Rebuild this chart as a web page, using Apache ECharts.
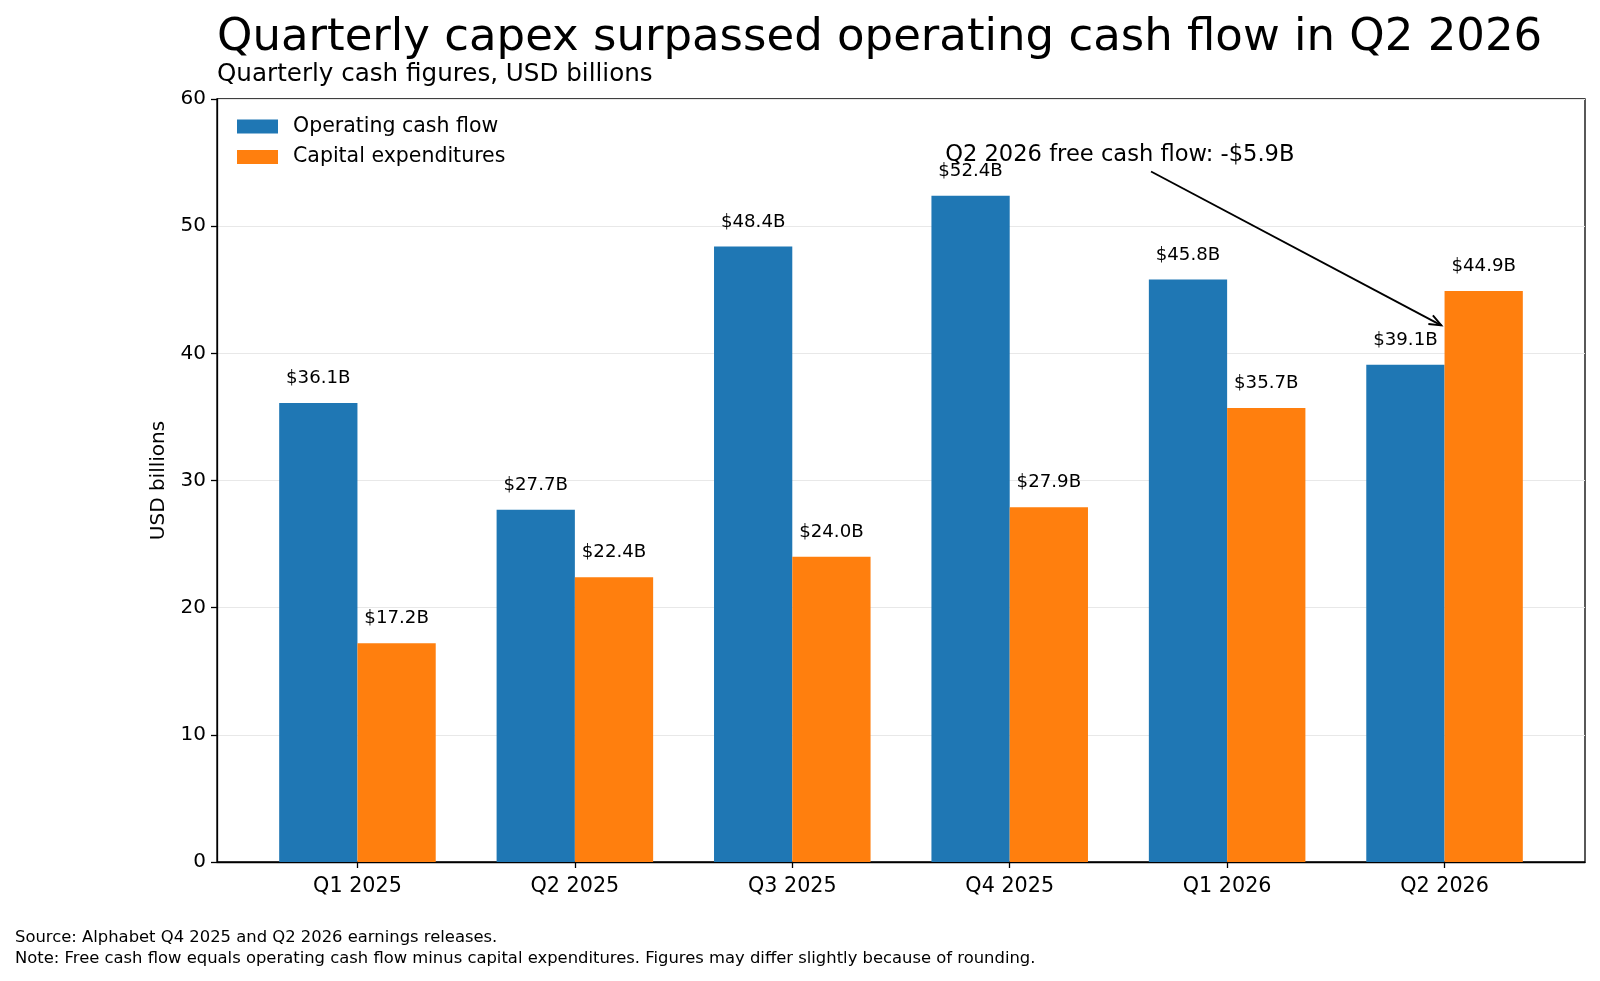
<!DOCTYPE html>
<html>
<head>
<meta charset="utf-8">
<title>Quarterly capex vs operating cash flow</title>
<script src="https://cdn.jsdelivr.net/npm/echarts@6/dist/echarts.min.js"></script>
<style>
  html, body { margin: 0; padding: 0; background: #fff; }
  #chart { width: 1600px; height: 981px; }
</style>
</head>
<body>
<div id="chart"></div>
<script>
// data
const quarters = ['Q1 2025', 'Q2 2025', 'Q3 2025', 'Q4 2025', 'Q1 2026', 'Q2 2026'];
const operatingCashFlow = [36.1, 27.7, 48.4, 52.4, 45.8, 39.1];
const capitalExpenditures = [17.2, 22.4, 24.0, 27.9, 35.7, 44.9];
const yTicks = [0, 10, 20, 30, 40, 50, 60];

const FONT = 'DejaVu Sans';
const BLUE = '#1f77b4';
const ORANGE = '#ff7f0e';

// annotation anchors in data coordinates (quarter index, value)
const noteText = 'Q2 2026 free cash flow: -$5.9B';
const noteAt = [2.703, 55.55];
const arrowFrom = [3.65, 54.3];
const arrowTo = [4.985, 42.2];

const chart = echarts.init(document.getElementById('chart'), null, { renderer: 'canvas' });

const idx = quarters.map((q, i) => i);
const fmt = p => '$' + p.value[1].toFixed(1) + 'B';

const option = {
  animation: false,
  backgroundColor: '#fff',
  textStyle: { fontFamily: FONT },
  title: [
    {
      text: 'Quarterly capex surpassed operating cash flow in Q2 2026',
      left: 212, top: 11,
      textStyle: { fontFamily: FONT, fontSize: 45, fontWeight: 'normal', color: '#000' }
    },
    {
      text: 'Quarterly cash figures, USD billions',
      left: 212, top: 57,
      textStyle: { fontFamily: FONT, fontSize: 24.6, fontWeight: 'normal', color: '#000' }
    },
    {
      text: 'Source: Alphabet Q4 2025 and Q2 2026 earnings releases.\nNote: Free cash flow equals operating cash flow minus capital expenditures. Figures may differ slightly because of rounding.',
      left: 10, top: 923,
      textStyle: { fontFamily: FONT, fontSize: 16.4, fontWeight: 'normal', color: '#000', lineHeight: 20.4 }
    }
  ],
  legend: {
    orient: 'vertical',
    left: 232, top: 111,
    itemWidth: 41, itemHeight: 14, itemGap: 9.5,
    icon: 'rect',
    textStyle: { fontFamily: FONT, fontSize: 20.5, color: '#000', lineHeight: 20, padding: [0, 0, 0, 10] },
    data: ['Operating cash flow', 'Capital expenditures']
  },
  grid: {
    left: 217, right: 15, top: 99, bottom: 119,
    show: true, borderColor: '#000', borderWidth: 1.3, backgroundColor: 'transparent'
  },
  xAxis: {
    type: 'value',
    min: -0.646, max: 5.646,
    axisLine: { onZero: false, lineStyle: { color: '#000', width: 1.3 } },
    axisTick: { show: true, customValues: idx, length: 6, lineStyle: { color: '#000', width: 1.3 } },
    axisLabel: { customValues: idx, formatter: v => quarters[Math.round(v)],
                 fontFamily: FONT, fontSize: 20.7, color: '#000', margin: 14 },
    splitLine: { show: false }
  },
  yAxis: {
    type: 'value',
    min: yTicks[0], max: yTicks[yTicks.length - 1], interval: 10,
    name: 'USD billions',
    nameLocation: 'middle',
    nameGap: 48,
    nameTextStyle: { fontFamily: FONT, fontSize: 20, color: '#000' },
    axisLine: { show: true, onZero: false, lineStyle: { color: '#000', width: 1.3 } },
    axisTick: { show: true, length: 6, lineStyle: { color: '#000', width: 1.3 } },
    axisLabel: { fontFamily: FONT, fontSize: 20, color: '#000', margin: 11 },
    splitLine: { show: true, lineStyle: { color: '#e8e8e8', width: 1 } }
  },
  series: [
    {
      name: 'Operating cash flow',
      type: 'bar',
      data: idx.map(i => [i, operatingCashFlow[i]]),
      barWidth: '36%',
      barGap: '0%',
      itemStyle: { color: BLUE },
      label: { show: true, position: 'top', distance: 15.5, formatter: fmt,
               fontFamily: FONT, fontSize: 18.2, color: '#000' }
    },
    {
      name: 'Capital expenditures',
      type: 'bar',
      data: idx.map(i => [i, capitalExpenditures[i]]),
      barWidth: '36%',
      barGap: '0%',
      itemStyle: { color: ORANGE },
      label: { show: true, position: 'top', distance: 15.5, formatter: fmt,
               fontFamily: FONT, fontSize: 18.2, color: '#000' }
    }
  ]
};

chart.setOption(option);

// place the annotation from data coordinates
const toPx = ([i, v]) => [
  chart.convertToPixel({ xAxisIndex: 0 }, i),
  chart.convertToPixel({ yAxisIndex: 0 }, v)
];

const t = toPx(noteAt);
const a = toPx(arrowFrom);
const b = toPx(arrowTo);
const ang = Math.atan2(b[1] - a[1], b[0] - a[0]);
const headLen = 13, headW = 0.38;
const h1 = [b[0] - headLen * Math.cos(ang - headW), b[1] - headLen * Math.sin(ang - headW)];
const h2 = [b[0] - headLen * Math.cos(ang + headW), b[1] - headLen * Math.sin(ang + headW)];

chart.setOption({
  graphic: [
    {
      type: 'text', x: t[0], y: t[1], z: 100,
      style: { text: noteText, fontFamily: FONT, fontSize: 22.6, fill: '#000',
               textAlign: 'left', textVerticalAlign: 'middle' }
    },
    {
      type: 'line', z: 100,
      shape: { x1: a[0], y1: a[1], x2: b[0], y2: b[1] },
      style: { stroke: '#000', lineWidth: 1.9 }
    },
    {
      type: 'polyline', z: 100,
      shape: { points: [h1, b, h2] },
      style: { stroke: '#000', lineWidth: 1.9, fill: null }
    }
  ]
});
</script>
</body>
</html>
